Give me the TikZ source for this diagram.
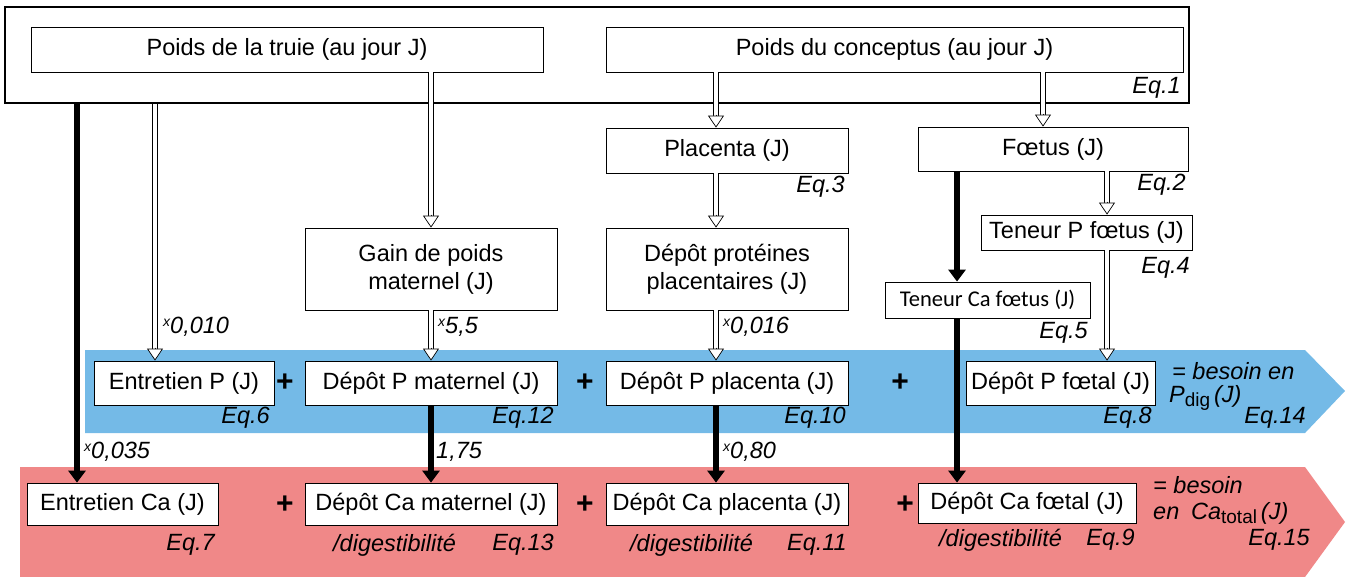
\documentclass[tikz,border=0pt]{standalone}
\usepackage{fontspec}
\setmainfont{Liberation Sans}
\newfontfamily\carlito{Carlito}
\usetikzlibrary{arrows.meta,calc}

\tikzset{
  box/.style={draw, line width=0.8pt, fill=white, inner sep=0pt, align=center,
    font=\fontsize{23.5}{28}\selectfont},
  eq/.style={anchor=east, inner sep=0pt, font=\fontsize{23.5}{27}\selectfont\itshape},
  note/.style={anchor=west, inner sep=0pt, font=\fontsize{23.5}{27}\selectfont\itshape},
  plus/.style={inner sep=0pt, font=\fontsize{30}{30}\selectfont\bfseries},
  fat/.style={line width=6pt, -{Triangle[width=17pt,length=12pt]}},
  hollowshaft/.style={double, double distance=4.5pt, line width=0.7pt},
  hollowhead/.style={line width=0.7pt, -{Triangle[open,fill=white,width=16pt,length=12pt]}}
}

\newcommand{\factor}[1]{\raisebox{0.55ex}{\fontsize{14}{14}\selectfont x}#1}
\newcommand{\sub}[1]{\raisebox{-0.35ex}{\fontsize{19}{19}\selectfont\upshape #1}}
\newcommand{\hollow}[2]{%
  \draw[hollowshaft] (#1) -- ($(#2)+(0,-12)$);
  \draw[hollowhead] ($(#2)+(0,-13)$) -- (#2);}

\begin{document}
\begin{tikzpicture}[x=1pt,y=-1pt]

% Define the colors
\colorlet{bandblue}{rgb,255:red,116;green,186;blue,231}
\colorlet{bandpink}{rgb,255:red,240;green,136;blue,136}

\useasboundingbox (0,0) rectangle (1349,576);

% Draw the bands
\fill[bandblue] (85,350) -- (1305,350) -- (1345,391) -- (1305,433) -- (85,433) -- cycle;
\fill[bandpink] (20,467) -- (1305,467) -- (1345,522) -- (1305,577) -- (20,577) -- cycle;

% Draw the frame
\node[draw, line width=2.4pt, inner sep=0pt, minimum width=1184pt, minimum height=96pt] (poids) at (597,55) {};

% Columns of the arrows
\coordinate (colA) at (77,0);
\coordinate (colB) at (155,0);
\coordinate (colC) at (431,0);
\coordinate (colD) at (716,0);
\coordinate (colE) at (957,0);
\coordinate (colF) at (1043,0);
\coordinate (colG) at (1107,0);

% Draw the boxes
\node[box, minimum width=512pt, minimum height=45pt] (truie) at (287,49.5) {Poids de la truie (au jour J)};
\node[box, minimum width=577pt, minimum height=45pt] (concept) at (894.5,49.5) {Poids du conceptus (au jour J)};
\node[box, minimum width=242pt, minimum height=45pt] (placenta) at (727,150.5) {Placenta (J)};
\node[box, minimum width=270pt, minimum height=44pt] (foetus) at (1053,149) {F\oe tus (J)};
\node[box, minimum width=252pt, minimum height=82pt] (gain) at (431,269) {Gain de poids\\maternel (J)};
\node[box, minimum width=242pt, minimum height=82pt] (proteines) at (727,269) {D\'ep\^ot prot\'eines\\placentaires (J)};
\node[box, minimum width=211pt, minimum height=35pt] (teneurP) at (1086.5,232.5) {Teneur P f\oe tus (J)};
\node[box, minimum width=205pt, minimum height=36pt, font=\carlito\fontsize{22.5}{27}\selectfont] (teneurCa) at (987.5,300) {Teneur Ca f\oe tus (J)};

\node[box, minimum width=180pt, minimum height=44pt] (entP) at (184,383) {Entretien P (J)};
\node[box, minimum width=252pt, minimum height=44pt] (depPmat) at (431,383) {D\'ep\^ot P maternel (J)};
\node[box, minimum width=242pt, minimum height=44pt] (depPpla) at (727,383) {D\'ep\^ot P placenta (J)};
\node[box, minimum width=189pt, minimum height=44pt] (depPfoe) at (1060.5,383) {D\'ep\^ot P f\oe tal (J)};

\node[box, minimum width=191pt, minimum height=42pt] (entCa) at (122.5,504) {Entretien Ca (J)};
\node[box, minimum width=252pt, minimum height=42pt] (depCamat) at (431,504) {D\'ep\^ot Ca maternel (J)};
\node[box, minimum width=242pt, minimum height=42pt] (depCapla) at (727,504) {D\'ep\^ot Ca placenta (J)};
\node[box, minimum width=218pt, minimum height=40pt] (depCafoe) at (1027,503) {D\'ep\^ot Ca f\oe tal (J)};

% Draw the white arrows
\hollow{poids.south -| colB}{entP.north -| colB}
\hollow{truie.south -| colC}{gain.north -| colC}
\hollow{gain.south -| colC}{depPmat.north -| colC}
\hollow{concept.south -| colD}{placenta.north -| colD}
\hollow{placenta.south -| colD}{proteines.north -| colD}
\hollow{proteines.south -| colD}{depPpla.north -| colD}
\hollow{concept.south -| colF}{foetus.north -| colF}
\hollow{foetus.south -| colG}{teneurP.north -| colG}
\hollow{teneurP.south -| colG}{depPfoe.north -| colG}

% Draw the black arrows
\draw[fat] (poids.south -| colA) -- (entCa.north -| colA);
\draw[fat] (depPmat.south -| colC) -- (depCamat.north -| colC);
\draw[fat] (depPpla.south -| colD) -- (depCapla.north -| colD);
\draw[fat] (foetus.south -| colE) -- (teneurCa.north -| colE);
\draw[fat] (teneurCa.south -| colE) -- (depCafoe.north -| colE);

% Draw the factors
\node[note] (fB) at (163,327) {\factor{0,010}};
\node[note] (fC) at (438,327) {\factor{5,5}};
\node[note] (fD) at (723,327) {\factor{0,016}};
\node[note] (fA) at (84,452) {\factor{0,035}};
\node[note] (fCa) at (436,452) {1,75};
\node[note] (fDa) at (723,452) {\factor{0,80}};

% Draw the plus signs
\node[plus] (p1) at (285,383) {+};
\node[plus] (p2) at (585,383) {+};
\node[plus] (p3) at (900,383) {+};
\node[plus] (p4) at (285,505) {+};
\node[plus] (p5) at (585,505) {+};
\node[plus] (p6) at (905,505) {+};

% Draw the equation numbers
\node[eq] (eq1) at (1181,88) {Eq.1};
\node[eq] (eq2) at (1186,185) {Eq.2};
\node[eq] (eq3) at (845,187) {Eq.3};
\node[eq] (eq4) at (1190,268) {Eq.4};
\node[eq] (eq5) at (1088,333) {Eq.5};
\node[eq] (eq6) at (270,418) {Eq.6};
\node[eq] (eq12) at (554,418) {Eq.12};
\node[eq] (eq10) at (846,418) {Eq.10};
\node[eq] (eq8) at (1152,418) {Eq.8};
\node[eq] (eq14) at (1306,418) {Eq.14};
\node[eq] (eq7) at (215,545) {Eq.7};
\node[eq] (eq13) at (554,545) {Eq.13};
\node[eq] (eq11) at (847,545) {Eq.11};
\node[eq] (eq9) at (1135,540) {Eq.9};
\node[eq] (eq15) at (1310,540) {Eq.15};

% Draw the digestibility notes
\node[note] (dg13) at (333,545) {/digestibilit\'e};
\node[note] (dg11) at (630,545) {/digestibilit\'e};
\node[note] (dg9) at (939,540) {/digestibilit\'e};

% Draw the totals
\node[note] (totP1) at (1172,371) {= besoin en};
\node[note] (totP2) at (1169,398) {P\sub{dig}\,(J)};
\node[note] (totCa1) at (1153,485) {= besoin};
\node[note] (totCa2) at (1153,513) {en\enspace Ca\sub{total}\,(J)};

\end{tikzpicture}
\end{document}
